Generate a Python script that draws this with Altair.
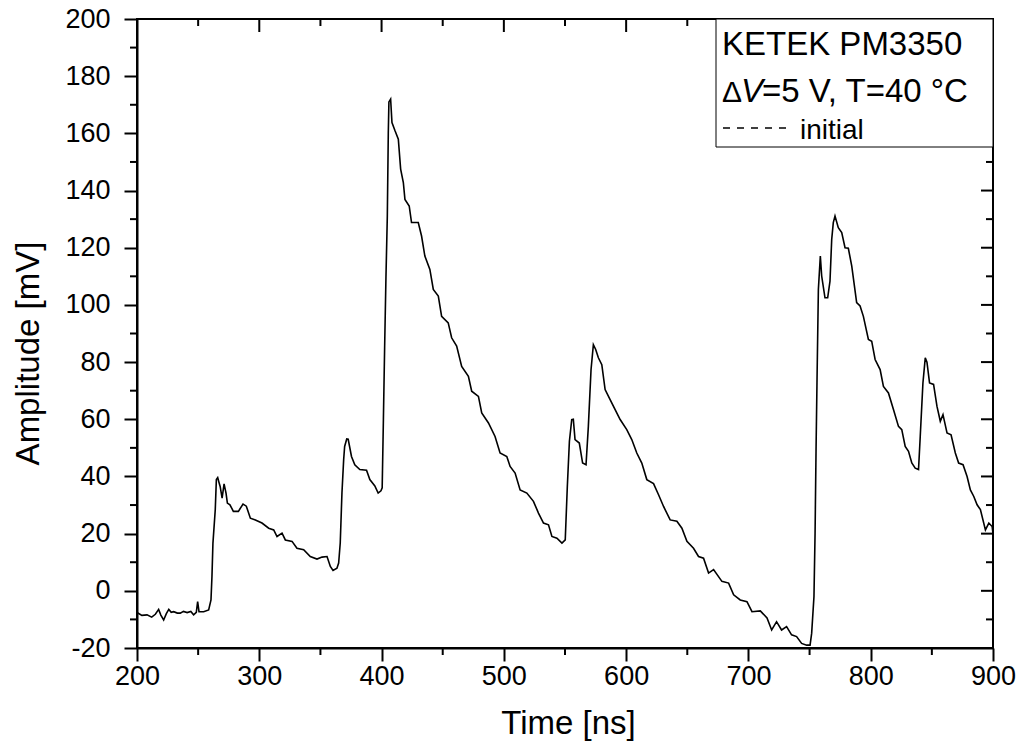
import altair as alt
import pandas as pd

# Waveform (time in ns, amplitude in mV)
time_ns = [200, 204, 208.2, 212, 215, 217.7, 219.5, 221.8, 224, 226, 228, 230, 233, 235.4, 238, 241, 244,
           246.3, 248.5, 249.6, 250.7, 254.5, 258.6, 260.5, 261.3, 262.1, 264, 264.9, 266, 267, 268, 269.6,
           271.2, 272.8, 273.9, 276, 278.8, 282.9, 286.7, 289.4, 292.7, 296.8, 302.2, 307.7, 311.8, 314.5,
           318.6, 321.3, 326.8, 330.8, 336.3, 341.7, 347.2, 351.3, 355.4, 358.1, 360.3, 363.5, 364.9, 366.2,
           367.6, 369, 369.8, 371.5, 372.7, 375.4, 378.1, 382.2, 387.7, 390.4, 394.5, 397.2, 399.5, 400.5,
           401.5, 402.5, 403.6, 404.7, 405.5, 406, 407.4, 408.5, 411, 413.7, 415.6, 417.8, 419.1, 422.6,
           424.5, 430, 432.7, 435.4, 439.5, 442.3, 446.4, 449.1, 454.5, 457.3, 461.4, 465.5, 471, 473.7,
           479.2, 481.9, 487.4, 492.8, 496.9, 502.4, 505.1, 509.2, 513.3, 518.8, 524.2, 528.3, 532.4, 536.5,
           539.3, 543.4, 547.5, 550.2, 551.9, 553.6, 555.5, 556.8, 558.2, 561.7, 564.4, 567.2, 569.1, 571.3,
           573.2, 575.1, 577.3, 580.1, 582.8, 586.9, 591, 595.1, 600.5, 604.6, 608.7, 612.8, 616.9, 622.4,
           626.5, 630.6, 636, 641.5, 645.6, 649.7, 655.1, 659.2, 663.3, 667.4, 671.5, 678.3, 683.8, 687.9,
           693.3, 698.8, 702.9, 709.7, 715.2, 719, 723, 727.1, 731.2, 735.3, 739.4, 743.5, 747.6, 750.4,
           751.7, 753.6, 754.5, 755.3, 756.1, 757.2, 758.8, 759.9, 762.6, 764.8, 766.7, 768.1, 769.4, 770.8,
           773.5, 776.3, 779, 781.7, 784.5, 788.5, 791.3, 794, 798.1, 800.8, 803.6, 807.7, 810.4, 814.5,
           818.6, 822.7, 825.4, 828.2, 830.9, 833.6, 836.4, 839.1, 840.5, 842.7, 844.6, 846, 848.1, 851.4,
           854.2, 856.9, 859.1, 862.4, 865.7, 869.2, 871.9, 875.5, 878.8, 881.5, 884.3, 887, 889.7, 893.8,
           896.6, 899.3, 900]
amplitude_mv = [-7.6, -8.6, -8.4, -9.2, -8.2, -6.5, -8.5, -10.2, -8, -6.5, -7.5, -7.3, -7.8, -7.8, -7.2, -7.6, -7.2,
                -8.4, -7.5, -3.8, -7.3, -7.3, -6.7, -3.2, 5, 16.7, 28.4, 38.9, 39.6, 38, 36.5, 32.4,
                37.4, 34.2, 30.7, 30.1, 27.8, 27.8, 30.3, 29.6, 25.4, 24.8, 23.7, 21.9, 21.3, 19,
                20.2, 17.8, 17.3, 14.9, 14.4, 12, 11.1, 11.8, 12, 8.5, 7.1, 7.9, 9.7, 16.7,
                34.2, 45.9, 50.5, 53.1, 53, 47, 44.1, 42.4, 42.2, 38.9, 36.7, 34.2, 35, 36,
                60, 85, 110, 131, 160, 171, 172, 163.8, 160.9, 158, 147.5, 142.8, 136.9, 134.6,
                128.8, 128.8, 124.1, 117.1, 112.4, 105.4, 103.1, 96, 93.7, 88.5, 85.6, 78.5, 75, 69.8,
                68, 62.2, 58.7, 54, 48.2, 47, 43.5, 41.2, 35.3, 34.2, 31.3, 27.2, 23.7, 23.1,
                19, 18.4, 16.7, 17.8, 36.5, 52.3, 59.9, 60, 52.9, 51.7, 44.7, 44.1, 57.5, 77.4,
                86.1, 84.4, 81.5, 79.1, 70.4, 66.9, 63.4, 59.9, 56.4, 52.9, 48.2, 44.7, 38.9, 37.5,
                33.6, 29.5, 24.8, 24.3, 21.9, 17.3, 14.9, 12, 11.4, 6.2, 7.4, 3.3, 2.7, -1.4,
                -3.2, -3.8, -7.3, -7, -9.5, -13.7, -10.8, -13.7, -12.5, -15.4, -16, -18.4, -19, -19,
                -14.9, -2, 20.2, 49.4, 73.9, 105.4, 117.1, 110.1, 102.5, 102.5, 108.3, 122.9, 128.8, 131.1,
                127, 125.3, 120, 119.8, 113.6, 100.8, 99.6, 96, 87.9, 87.3, 80.9, 77.4, 71.5, 69.2,
                63.4, 57.5, 56.4, 50.5, 48.8, 44.7, 42.9, 42.4, 54, 72.7, 81.5, 80, 72.7, 72.2,
                64.5, 59.3, 61.6, 55.2, 54.6, 48.2, 44.7, 44.1, 40, 35.3, 33, 30.1, 28.4, 21.3,
                23.7, 22.5, 20]

x_major = [200, 300, 400, 500, 600, 700, 800, 900]
x_minor = [250, 350, 450, 550, 650, 750, 850]
y_major = [-20, 0, 20, 40, 60, 80, 100, 120, 140, 160, 180, 200]
y_minor = [-10, 10, 30, 50, 70, 90, 110, 130, 150, 170, 190]

legend_title = "KETEK PM3350"
legend_series = "initial"

W, H = 856, 629
FONT = "Liberation Sans"

xs = alt.Scale(domain=[200, 900], nice=False, zero=False)
ys = alt.Scale(domain=[-20, 200], nice=False, zero=False)

df = pd.DataFrame({"t": time_ns, "v": amplitude_mv})

line = alt.Chart(df).mark_line(color="black", strokeWidth=1.6, clip=True).encode(
    x=alt.X("t:Q", scale=xs, axis=alt.Axis(
        values=x_major, title="Time [ns]", labelExpr="datum.value + ''",
        labelFlush=False, labelOverlap=False,
        titleX=431, titleY=85, titleAlign="center", titleBaseline="alphabetic",
        labelPadding=2)),
    y=alt.Y("v:Q", scale=ys, axis=alt.Axis(
        values=y_major, title="Amplitude [mV]", labelExpr="datum.value + ''",
        labelFlush=False, labelOverlap=False,
        titleX=-109, titleY=334, titleAngle=270, titleAlign="center", titleBaseline="middle",
        labelPadding=14)),
)

dx_minor = pd.DataFrame({"t": x_minor})
dx_major = pd.DataFrame({"t": x_major})
dy_minor = pd.DataFrame({"v": y_minor})
dy_major = pd.DataFrame({"v": y_major})

tick_style = dict(color="black", strokeWidth=2)

bottom_minor = alt.Chart(dx_minor).mark_rule(**tick_style).encode(
    x=alt.X("t:Q", scale=xs), y=alt.value(H), y2=alt.value(H + 7))
top_major = alt.Chart(dx_major).mark_rule(**tick_style).encode(
    x=alt.X("t:Q", scale=xs), y=alt.value(0), y2=alt.value(13))
top_minor = alt.Chart(dx_minor).mark_rule(**tick_style).encode(
    x=alt.X("t:Q", scale=xs), y=alt.value(0), y2=alt.value(7))
left_minor = alt.Chart(dy_minor).mark_rule(**tick_style).encode(
    y=alt.Y("v:Q", scale=ys), x=alt.value(0), x2=alt.value(-7))
right_major = alt.Chart(dy_major).mark_rule(**tick_style).encode(
    y=alt.Y("v:Q", scale=ys), x=alt.value(W), x2=alt.value(W - 12))
right_minor = alt.Chart(dy_minor).mark_rule(**tick_style).encode(
    y=alt.Y("v:Q", scale=ys), x=alt.value(W), x2=alt.value(W - 7))

# legend box (annotation)
box = alt.Chart(pd.DataFrame({"a": [0]})).mark_rect(
    fill="white", stroke="black", strokeWidth=1).encode(
    x=alt.value(579), x2=alt.value(W), y=alt.value(0), y2=alt.value(128))

def txt(s, x, y, size, style="normal"):
    return alt.Chart(pd.DataFrame({"s": [s]})).mark_text(
        font=FONT, fontSize=size, fontStyle=style, align="left", baseline="alphabetic",
        color="black").encode(text="s:N", x=alt.value(x), y=alt.value(y))

t1 = txt(legend_title, 585, 36, 33)
t2a = txt("Δ", 585, 83, 30)
t2b = txt("V", 604, 83, 33, "italic")
t2c = txt("=5 V, T=40 °C", 625, 83, 33)
dash = alt.Chart(pd.DataFrame({"a": [0]})).mark_rule(
    color="black", strokeWidth=1.5, strokeDash=[7, 7]).encode(
    x=alt.value(586), x2=alt.value(656), y=alt.value(109))
t3 = txt(legend_series, 663, 120, 28)

chart = alt.layer(
    line, bottom_minor, top_major, top_minor, left_minor, right_major, right_minor,
    box, t1, t2a, t2b, t2c, dash, t3
).properties(
    width=W, height=H,
    autosize=alt.AutoSizeParams(type="none"),
    padding={"left": 137, "top": 19, "right": 26, "bottom": 106},
    background="white",
).configure_view(
    stroke="black", strokeWidth=2
).configure_axis(
    grid=False, domainColor="black", domainWidth=2, tickColor="black", tickWidth=2, tickSize=13,
    labelFont=FONT, labelFontSize=27, labelColor="black",
    titleFont=FONT, titleFontSize=33, titleFontWeight="normal", titleColor="black",
)

chart.save("out.html", embed_options={"renderer": "svg", "actions": False})
